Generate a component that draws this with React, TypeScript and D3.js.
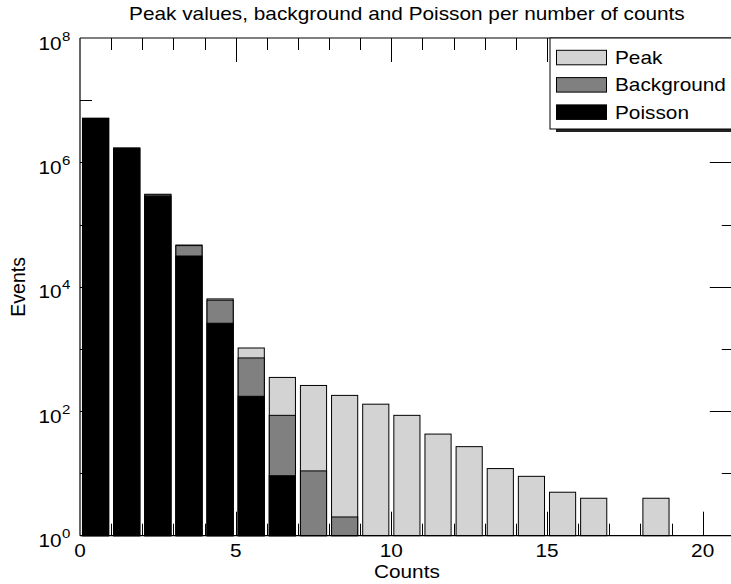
import React, { useEffect } from "react";
import * as d3 from "d3";

// Number of counts per bin and the events recorded for each series
const counts = [0, 1, 2, 3, 4, 5, 6, 7, 8, 9, 10, 11, 12, 13, 14, 15, 16, 17, 18];
const peakValues = [5.12e6, 1.7e6, 3.08e5, 4.7e4, 6400, 1040, 350, 260, 180, 130, 86, 43, 27, 12, 9, 5, 4, 0, 4];
const backgroundValues = [5.1e6, 1.69e6, 3.0e5, 4.6e4, 6100, 720, 86, 11, 2, 0, 0, 0, 0, 0, 0, 0, 0, 0, 0];
const poissonValues = [5.1e6, 1.69e6, 2.86e5, 3.13e4, 2600, 174, 9.2, 0, 0, 0, 0, 0, 0, 0, 0, 0, 0, 0, 0];

const seriesNames = ["Peak", "Background", "Poisson"];
const seriesColors = ["#d3d3d3", "#808080", "#000000"];

const xTickValues = [0, 5, 10, 15, 20];
const yTickExponents = [0, 2, 4, 6, 8];

const W = 731;
const H = 584;
const FONT = "'Liberation Sans', Arial, Helvetica, sans-serif";
const SX = 1.155;

const x = d3.scaleLinear().domain([0, 21]).range([80, 733.8]);
const y = d3.scaleLog().domain([1, 1e8]).range([535.7, 38]);

const left = x(0);
const right = x(21);
const top = y(1e8);
const bottom = y(1);

function WideText({ x: tx, y: ty, anchor = "start", size = 18, children }: any) {
  return (
    <text
      transform={`translate(${tx},${ty}) scale(${SX},1)`}
      textAnchor={anchor}
      fontFamily={FONT}
      fontSize={size}
      fill="#000"
    >
      {children}
    </text>
  );
}

export default function App() {
  useEffect(() => {
    document.body.style.margin = "0";
  }, []);

  const barHalf = 0.42;
  const series = [peakValues, backgroundValues, poissonValues];

  const xMinor = d3.range(1, 21);
  const yMinor = d3.range(1, 8);

  return (
    <svg width={W} height={H} style={{ position: "absolute", left: 0, top: 0, background: "#fff" }}>
      <rect x={0} y={0} width={W} height={H} fill="#fff" />

      {/* tick marks on all four sides */}
      <g stroke="#000" strokeWidth={1}>
        {xMinor.map((v) => {
          const len = v % 5 === 0 ? 24 : 12;
          const px = Math.round(x(v)) + 0.5;
          return (
            <g key={"xt" + v}>
              <line x1={px} x2={px} y1={bottom} y2={bottom - len} />
              <line x1={px} x2={px} y1={top} y2={top + len} />
            </g>
          );
        })}
        {yMinor.map((e) => {
          const len = e % 2 === 0 ? 24 : 12;
          const py = Math.round(y(Math.pow(10, e))) + 0.5;
          return (
            <g key={"yt" + e}>
              <line x1={left} x2={left + len} y1={py} y2={py} />
              <line x1={right} x2={right - len} y1={py} y2={py} />
            </g>
          );
        })}
      </g>

      {/* overlapping bars: Peak, then Background, then Poisson */}
      {series.map((vals, si) => (
        <g key={"s" + si}>
          {counts.map((c, i) => {
            const v = vals[i];
            if (!(v >= 1)) return null;
            const x0 = x(c + 0.5 - barHalf);
            const x1 = x(c + 0.5 + barHalf);
            const yt = y(v);
            return (
              <rect
                key={"b" + i}
                x={x0}
                y={yt}
                width={x1 - x0}
                height={bottom - yt}
                fill={seriesColors[si]}
                stroke="#000"
                strokeWidth={1}
              />
            );
          })}
        </g>
      ))}

      {/* axes box */}
      <g stroke="#000" strokeWidth={1.2} fill="none">
        <line x1={left} x2={left} y1={top} y2={bottom} />
        <line x1={left} x2={right} y1={bottom} y2={bottom} />
        <line x1={left} x2={right} y1={top} y2={top} />
        <line x1={right} x2={right} y1={top} y2={bottom} />
      </g>

      {/* x tick labels */}
      {xTickValues.map((v) => (
        <WideText key={"xl" + v} x={x(v)} y={556.5} anchor="middle">
          {v}
        </WideText>
      ))}

      {/* y tick labels as powers of ten */}
      {yTickExponents.map((e) => {
        const py = y(Math.pow(10, e));
        return (
          <g key={"yl" + e}>
            <WideText x={61.5} y={py + 11.5} anchor="end">
              10
            </WideText>
            <WideText x={62} y={py + 2.5} size={13}>
              {e}
            </WideText>
          </g>
        );
      })}

      {/* axis titles */}
      <WideText x={(left + right) / 2} y={578} anchor="middle">
        Counts
      </WideText>
      <text
        transform={`translate(25,${(top + bottom) / 2}) rotate(-90)`}
        textAnchor="middle"
        fontFamily={FONT}
        fontSize={19.5}
      >
        Events
      </text>
      <WideText x={(left + right) / 2} y={20} anchor="middle">
        Peak values, background and Poisson per number of counts
      </WideText>

      {/* legend */}
      <g>
        <rect x={556} y={41} width={200} height={91} fill="#222" />
        <rect x={550} y={38} width={200} height={91} fill="#fff" stroke="#000" strokeWidth={1} />
        {seriesNames.map((name, i) => {
          const cy = 57.5 + i * 27.3;
          return (
            <g key={"lg" + i}>
              <rect x={556.5} y={cy - 7.2} width={50} height={14.5} fill={seriesColors[i]} stroke="#000" strokeWidth={1} />
              <WideText x={615} y={cy + 6.5}>
                {name}
              </WideText>
            </g>
          );
        })}
      </g>
    </svg>
  );
}
